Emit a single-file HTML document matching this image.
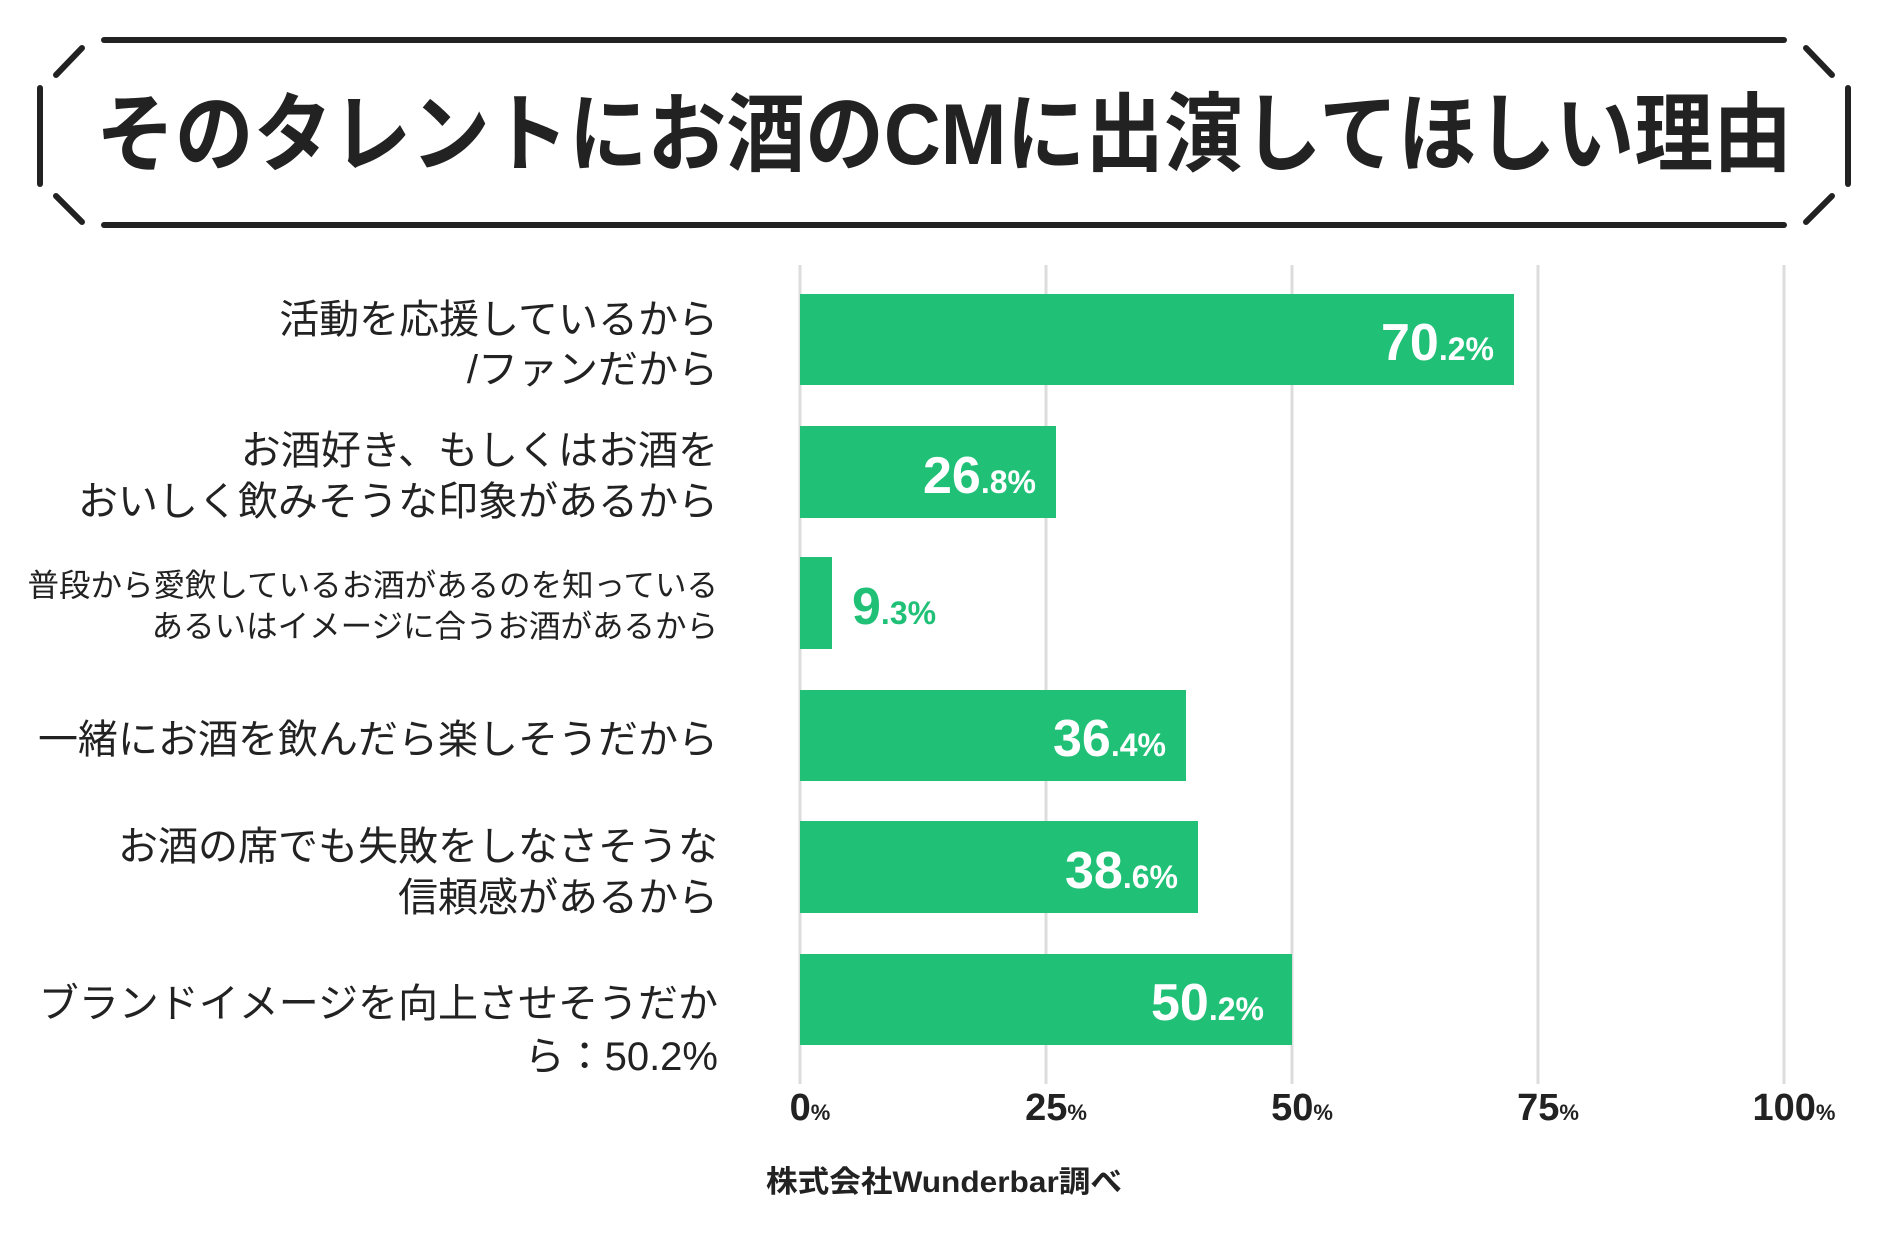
<!DOCTYPE html>
<html><head><meta charset="utf-8"><style>
html,body{margin:0;padding:0;background:#fff;}
svg{display:block;}
text{font-family:"Liberation Sans","Noto Sans CJK JP",sans-serif;}
</style></head><body>
<svg width="1888" height="1242" viewBox="0 0 1888 1242" xmlns="http://www.w3.org/2000/svg">
<g stroke="#222" stroke-width="6" stroke-linecap="round" fill="none">
<line x1="104" y1="40" x2="1784" y2="40"/>
<line x1="104" y1="225" x2="1784" y2="225"/>
<line x1="82" y1="48" x2="56" y2="75"/>
<line x1="40" y1="88" x2="40" y2="184"/>
<line x1="56" y1="196" x2="82" y2="222"/>
<line x1="1806" y1="48" x2="1832" y2="75"/>
<line x1="1848" y1="88" x2="1848" y2="184"/>
<line x1="1832" y1="196" x2="1806" y2="222"/>
</g>
<text x="96" y="164" font-size="86" font-weight="bold" fill="#222" textLength="1696" lengthAdjust="spacingAndGlyphs">そのタレントにお酒のCMに出演してほしい理由</text>
<g stroke="#dcdcdc" stroke-width="3">
<line x1="800" y1="265" x2="800" y2="1084"/>
<line x1="1046" y1="265" x2="1046" y2="1084"/>
<line x1="1292" y1="265" x2="1292" y2="1084"/>
<line x1="1538" y1="265" x2="1538" y2="1084"/>
<line x1="1784" y1="265" x2="1784" y2="1084"/>
</g>
<g fill="#20c077">
<rect x="800" y="294" width="714" height="91"/>
<rect x="800" y="426" width="256" height="92"/>
<rect x="800" y="557" width="32" height="92"/>
<rect x="800" y="690" width="386" height="91"/>
<rect x="800" y="821" width="398" height="92"/>
<rect x="800" y="954" width="492" height="91"/>
</g>
<g font-weight="bold" fill="#fff" text-anchor="end">
<text x="1494" y="360" font-size="52"><tspan>70</tspan><tspan font-size="32">.2%</tspan></text>
<text x="1036" y="493" font-size="52"><tspan>26</tspan><tspan font-size="32">.8%</tspan></text>
<text x="1166" y="756" font-size="52"><tspan>36</tspan><tspan font-size="32">.4%</tspan></text>
<text x="1178" y="888" font-size="52"><tspan>38</tspan><tspan font-size="32">.6%</tspan></text>
<text x="1264" y="1020" font-size="52"><tspan>50</tspan><tspan font-size="32">.2%</tspan></text>
</g>
<text x="852" y="624" font-size="52" font-weight="bold" fill="#20c077"><tspan>9</tspan><tspan font-size="32">.3%</tspan></text>
<g fill="#222" text-anchor="end" font-size="40">
<text x="718" y="333">活動を応援しているから</text>
<text x="718" y="383">/ファンだから</text>
<text x="718" y="464">お酒好き、もしくはお酒を</text>
<text x="718" y="515">おいしく飲みそうな印象があるから</text>
<text x="718" y="596" font-size="31.5">普段から愛飲しているお酒があるのを知っている</text>
<text x="718" y="637" font-size="31.5">あるいはイメージに合うお酒があるから</text>
<text x="718" y="753">一緒にお酒を飲んだら楽しそうだから</text>
<text x="718" y="860">お酒の席でも失敗をしなさそうな</text>
<text x="718" y="911">信頼感があるから</text>
<text x="718" y="1017">ブランドイメージを向上させそうだか</text>
<text x="718" y="1070">ら：50.2%</text>
</g>
<g fill="#222" font-size="38" font-weight="bold" text-anchor="middle">
<text x="810" y="1120">0<tspan font-size="22">%</tspan></text>
<text x="1056" y="1120">25<tspan font-size="22">%</tspan></text>
<text x="1302" y="1120">50<tspan font-size="22">%</tspan></text>
<text x="1548" y="1120">75<tspan font-size="22">%</tspan></text>
<text x="1794" y="1120">100<tspan font-size="22">%</tspan></text>
</g>
<text x="766" y="1192" font-size="30" font-weight="bold" fill="#222" textLength="356" lengthAdjust="spacingAndGlyphs">株式会社Wunderbar調べ</text>
</svg>
</body></html>
